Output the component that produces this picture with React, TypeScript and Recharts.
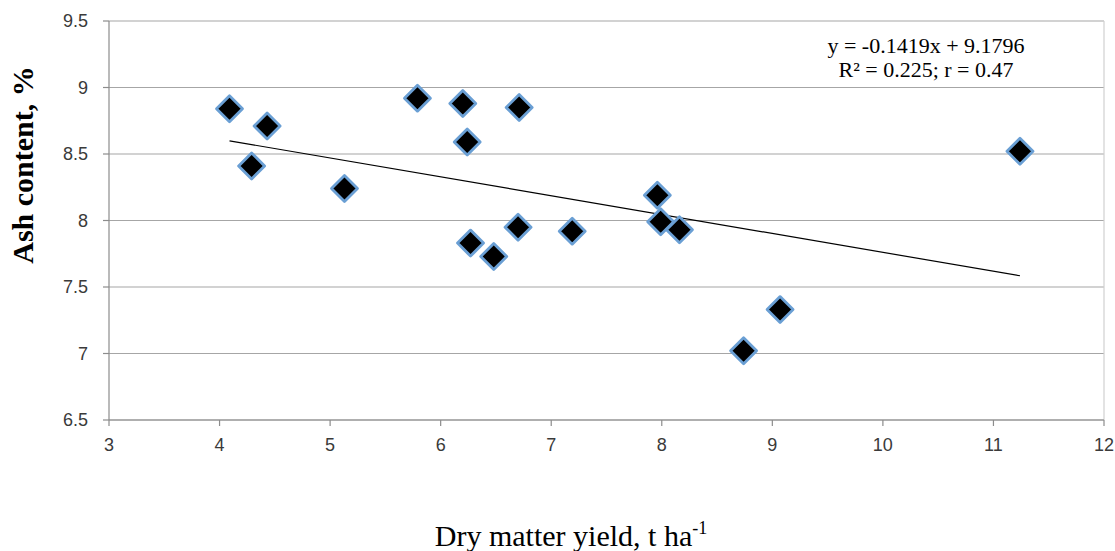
import {
  CartesianGrid,
  ReferenceLine,
  Scatter,
  ScatterChart,
  XAxis,
  YAxis,
} from "recharts";

// dry matter yield (t/ha) and ash content (%)
const yieldValues = [
  4.09, 4.29, 4.43, 5.13, 5.79, 6.2, 6.24, 6.27, 6.48, 6.71, 6.7, 7.19, 7.96,
  7.99, 8.16, 8.74, 9.07, 11.24,
];
const ashValues = [
  8.84, 8.41, 8.71, 8.24, 8.92, 8.88, 8.59, 7.83, 7.73, 8.85, 7.95, 7.92, 8.19,
  7.99, 7.93, 7.02, 7.33, 8.52,
];

const xTicks = [3, 4, 5, 6, 7, 8, 9, 10, 11, 12];
const yTicks = [6.5, 7, 7.5, 8, 8.5, 9, 9.5];

// linear trend as printed on the chart
const slope = -0.1419;
const intercept = 9.1796;
const equationText = "y = -0.1419x + 9.1796";
const statsText = "R² = 0.225; r = 0.47";

const points = yieldValues.map((x, i) => ({ x, y: ashValues[i] }));
const xMin = Math.min(...yieldValues);
const xMax = Math.max(...yieldValues);

const tickStyle = { fontSize: 18, fill: "#3a3a3a", fontFamily: "Liberation Sans" };

function Diamond(props: any) {
  const { cx, cy } = props;
  const r = 13;
  return (
    <polygon
      points={`${cx},${cy - r} ${cx + r},${cy} ${cx},${cy + r} ${cx - r},${cy}`}
      fill="#000"
      stroke="#6a9fd4"
      strokeWidth={2.8}
      strokeLinejoin="round"
    />
  );
}

export default function App() {
  return (
    <div style={{ position: "absolute", left: 0, top: 0 }}>
      <ScatterChart
        width={1115}
        height={551}
        margin={{ top: 21, right: 11, bottom: 91, left: 0 }}
      >
        <CartesianGrid vertical={false} stroke="#a6a6a6" strokeWidth={1.2} />
        <XAxis
          type="number"
          dataKey="x"
          domain={[3, 12]}
          ticks={xTicks}
          height={40}
          tick={tickStyle}
          tickSize={6}
          tickMargin={12}
          stroke="#8c8c8c"
          strokeWidth={1.2}
          label={{
            content: () => (
              <text
                x={571}
                y={546}
                textAnchor="middle"
                fontFamily="Liberation Serif"
                fontSize={30}
                fill="#000"
              >
                Dry matter yield, t ha
                <tspan dy={-12} fontSize={18}>
                  -1
                </tspan>
              </text>
            ),
          }}
        />
        <YAxis
          type="number"
          dataKey="y"
          domain={[6.5, 9.5]}
          ticks={yTicks}
          width={109}
          tick={tickStyle}
          tickSize={6}
          tickMargin={15}
          stroke="#8c8c8c"
          strokeWidth={1.2}
          label={{
            content: () => (
              <text
                x={33}
                y={165}
                transform="rotate(-90 33 165)"
                textAnchor="middle"
                fontFamily="Liberation Serif"
                fontWeight="bold"
                fontSize={30}
                fill="#000"
              >
                Ash content, %
              </text>
            ),
          }}
        />
        <ReferenceLine x={12} stroke="#d0d0d0" strokeWidth={1.2} />
        <ReferenceLine
          segment={[
            { x: xMin, y: slope * xMin + intercept },
            { x: xMax, y: slope * xMax + intercept },
          ]}
          stroke="#000"
          strokeWidth={1.2}
        />
        <Scatter data={points} shape={Diamond} isAnimationActive={false} />
        <text
          x={926}
          y={53}
          textAnchor="middle"
          fontFamily="Liberation Serif"
          fontSize={22}
          fill="#000"
        >
          {equationText}
        </text>
        <text
          x={926}
          y={77}
          textAnchor="middle"
          fontFamily="Liberation Serif"
          fontSize={22}
          fill="#000"
        >
          {statsText}
        </text>
      </ScatterChart>
    </div>
  );
}
